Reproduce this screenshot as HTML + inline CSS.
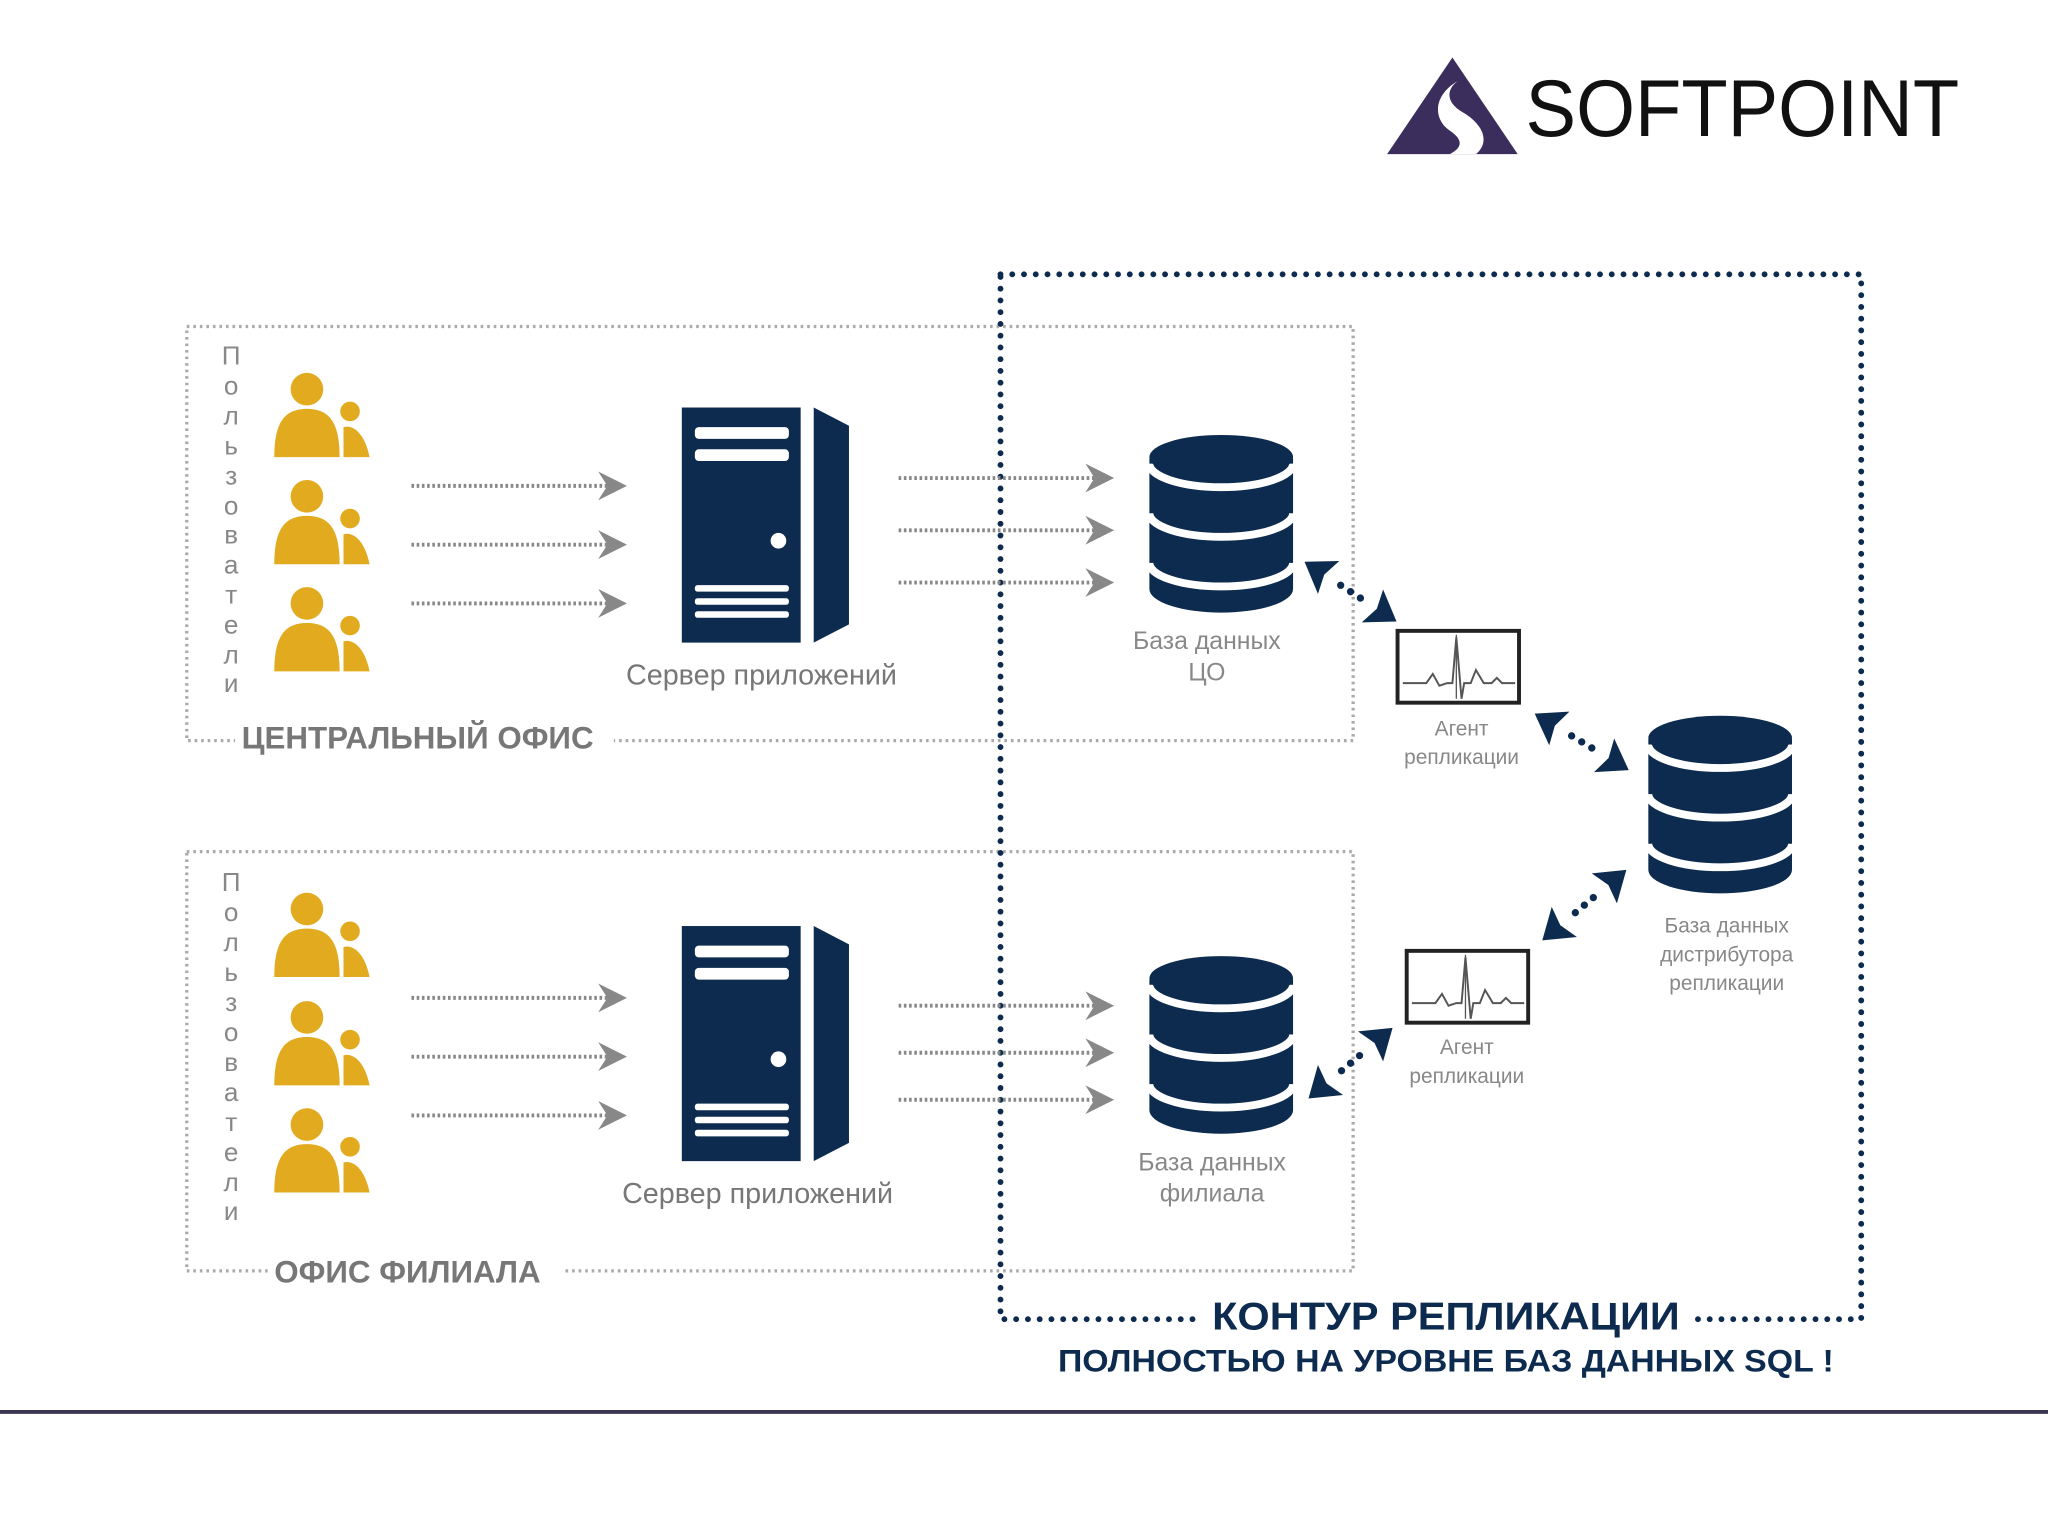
<!DOCTYPE html>
<html><head><meta charset="utf-8"><style>
html,body{margin:0;padding:0;background:#fff;}
svg{display:block;}
text{font-family:"Liberation Sans",sans-serif;}
</style></head><body>
<svg width="2048" height="1536" viewBox="0 0 1568 1176" xmlns="http://www.w3.org/2000/svg">
<defs>
<g id="person">
 <circle cx="27" cy="13" r="12.5" fill="#e2ab1f"/>
 <path d="M2,65 C2,38 10,28 27,28 C44,28 52,38 52,65 Z" fill="#e2ab1f"/>
 <circle cx="60" cy="30" r="7.5" fill="#e2ab1f"/>
 <path d="M55,65 L55,42 C62,40 71,46 75,65 Z" fill="#e2ab1f"/>
</g>
<g id="server">
 <rect x="522" y="312" width="91" height="180" fill="#0d2b4e"/>
 <polygon points="623,312 650,326 650,478 623,492" fill="#0d2b4e"/>
 <rect x="532" y="327" width="72" height="9" rx="3" fill="#fff"/>
 <rect x="532" y="344" width="72" height="9" rx="3" fill="#fff"/>
 <circle cx="596" cy="414" r="6" fill="#fff"/>
 <rect x="532" y="448" width="72" height="5" rx="2" fill="#fff"/>
 <rect x="532" y="458" width="72" height="5" rx="2" fill="#fff"/>
 <rect x="532" y="468" width="72" height="5" rx="2" fill="#fff"/>
</g>
<g id="db">
 <path d="M0,18 L0,118 A55,18 0 0 0 110,118 L110,18 Z" fill="#0d2b4e"/>
 <path d="M0,22 A55,18 0 0 0 110,22" fill="none" stroke="#fff" stroke-width="6"/>
 <path d="M0,60 A55,18 0 0 0 110,60" fill="none" stroke="#fff" stroke-width="6"/>
 <path d="M0,98 A55,18 0 0 0 110,98" fill="none" stroke="#fff" stroke-width="6"/>
 <ellipse cx="55" cy="17" rx="55" ry="17" fill="#0d2b4e"/>
</g>
<g id="garrow">
 <line x1="0" y1="0" x2="150" y2="0" stroke="#888" stroke-width="3" stroke-dasharray="2 2"/>
 <polygon points="143,-11 165,0 143,11 150,0" fill="#888"/>
</g>
<g id="darrow">
 <polygon points="-42,0 -20,-15 -24,0 -20,15" fill="#0d2b4e"/>
 <polygon points="42,0 20,-15 24,0 20,15" fill="#0d2b4e"/>
 <circle cx="-9" cy="0" r="2.8" fill="#0d2b4e"/>
 <circle cx="0" cy="0" r="2.8" fill="#0d2b4e"/>
 <circle cx="9" cy="0" r="2.8" fill="#0d2b4e"/>
</g>
<g id="agent">
 <rect x="0" y="0" width="93" height="55" fill="#fff" stroke="#222" stroke-width="3"/>
 <line x1="45" y1="3" x2="45" y2="52" stroke="#555" stroke-width="1"/>
 <polyline points="4,40 22,40 27,33 32,42 38,40 42,40 45,5 49,52 51,40 56,40 60,30 66,40 72,40 76,36 80,40 90,40" fill="none" stroke="#555" stroke-width="1.5"/>
</g>
</defs>

<!-- logo -->
<polygon points="1062,118 1112,44 1162,118" fill="#3b2d5c"/>
<path d="M1116,62 C1096,74 1098,92 1110,100 C1122,108 1118,114 1110,118 L1130,118 C1142,108 1134,94 1120,86 C1106,78 1108,68 1116,62 Z" fill="#fff"/>
<text x="1168" y="104" font-size="62" fill="#111" textLength="332" lengthAdjust="spacingAndGlyphs">SOFTPOINT</text>

<!-- office boxes -->
<rect x="143" y="250" width="893" height="317" fill="none" stroke="#aaa" stroke-width="2.5" stroke-dasharray="2 3"/>
<rect x="143" y="652" width="893" height="321" fill="none" stroke="#aaa" stroke-width="2.5" stroke-dasharray="2 3"/>
<rect x="180" y="550" width="290" height="34" fill="#fff"/>
<text x="185" y="573" font-size="24" font-weight="bold" fill="#777">ЦЕНТРАЛЬНЫЙ ОФИС</text>
<rect x="205" y="958" width="225" height="34" fill="#fff"/>
<text x="210" y="982" font-size="24" font-weight="bold" fill="#777">ОФИС ФИЛИАЛА</text>

<!-- replication contour -->
<rect x="766" y="210" width="659" height="800" fill="none" stroke="#0d2b4e" stroke-width="4.5" stroke-linecap="round" stroke-dasharray="0 9"/>
<rect x="918" y="992" width="378" height="40" fill="#fff"/>
<text x="1107" y="1018" font-size="30" font-weight="bold" fill="#0d2b4e" text-anchor="middle" textLength="358" lengthAdjust="spacingAndGlyphs">КОНТУР РЕПЛИКАЦИИ</text>
<text x="1107" y="1050" font-size="24" font-weight="bold" fill="#0d2b4e" text-anchor="middle" textLength="594" lengthAdjust="spacingAndGlyphs">ПОЛНОСТЬЮ НА УРОВНЕ БАЗ ДАННЫХ SQL !</text>

<line x1="0" y1="1081" x2="1568" y2="1081" stroke="#3a3550" stroke-width="3"/>

<!-- vertical users label -->
<g font-size="20" fill="#888" text-anchor="middle">
<text x="177" y="279">П</text><text x="177" y="302">о</text><text x="177" y="325">л</text><text x="177" y="348">ь</text><text x="177" y="371">з</text><text x="177" y="394">о</text><text x="177" y="416">в</text><text x="177" y="439">а</text><text x="177" y="462">т</text><text x="177" y="485">е</text><text x="177" y="508">л</text><text x="177" y="530">и</text>
<text x="177" y="682">П</text><text x="177" y="705">о</text><text x="177" y="728">л</text><text x="177" y="751">ь</text><text x="177" y="774">з</text><text x="177" y="797">о</text><text x="177" y="820">в</text><text x="177" y="843">а</text><text x="177" y="866">т</text><text x="177" y="889">е</text><text x="177" y="912">л</text><text x="177" y="934">и</text>
</g>

<!-- people -->
<use href="#person" x="208" y="285"/>
<use href="#person" x="208" y="367"/>
<use href="#person" x="208" y="449"/>
<use href="#person" x="208" y="683"/>
<use href="#person" x="208" y="766"/>
<use href="#person" x="208" y="848"/>

<!-- arrows -->
<use href="#garrow" x="315" y="372"/>
<use href="#garrow" x="315" y="417"/>
<use href="#garrow" x="315" y="462"/>
<use href="#garrow" x="315" y="764"/>
<use href="#garrow" x="315" y="809"/>
<use href="#garrow" x="315" y="854"/>
<use href="#garrow" x="688" y="366"/>
<use href="#garrow" x="688" y="406"/>
<use href="#garrow" x="688" y="446"/>
<use href="#garrow" x="688" y="770"/>
<use href="#garrow" x="688" y="806"/>
<use href="#garrow" x="688" y="842"/>

<!-- servers -->
<use href="#server"/>
<use href="#server" x="0" y="397"/>
<g font-size="22" fill="#777" text-anchor="middle">
<text x="583" y="524">Сервер приложений</text>
<text x="580" y="921">Сервер приложений</text>
</g>

<!-- databases -->
<use href="#db" x="880" y="333"/>
<use href="#db" x="880" y="732"/>
<use href="#db" x="1262" y="548"/>
<g font-size="19" fill="#888" text-anchor="middle">
<text x="924" y="497">База данных</text><text x="924" y="521">ЦО</text>
<text x="928" y="896">База данных</text><text x="928" y="920">филиала</text>
</g>
<g font-size="16" fill="#888" text-anchor="middle">
<text x="1322" y="714">База данных</text><text x="1322" y="736">дистрибутора</text><text x="1322" y="758">репликации</text>
<text x="1119" y="563">Агент</text><text x="1119" y="585">репликации</text>
<text x="1123" y="807">Агент</text><text x="1123" y="829">репликации</text>
</g>

<!-- agents -->
<use href="#agent" x="1070" y="483"/>
<use href="#agent" x="1077" y="728"/>

<!-- double arrows -->
<use href="#darrow" transform="translate(1034,453) rotate(33)"/>
<use href="#darrow" transform="translate(1211,568) rotate(31)"/>
<use href="#darrow" transform="translate(1213,693) rotate(-40)"/>
<use href="#darrow" transform="translate(1034,814) rotate(-40)"/>
</svg>
</body></html>
